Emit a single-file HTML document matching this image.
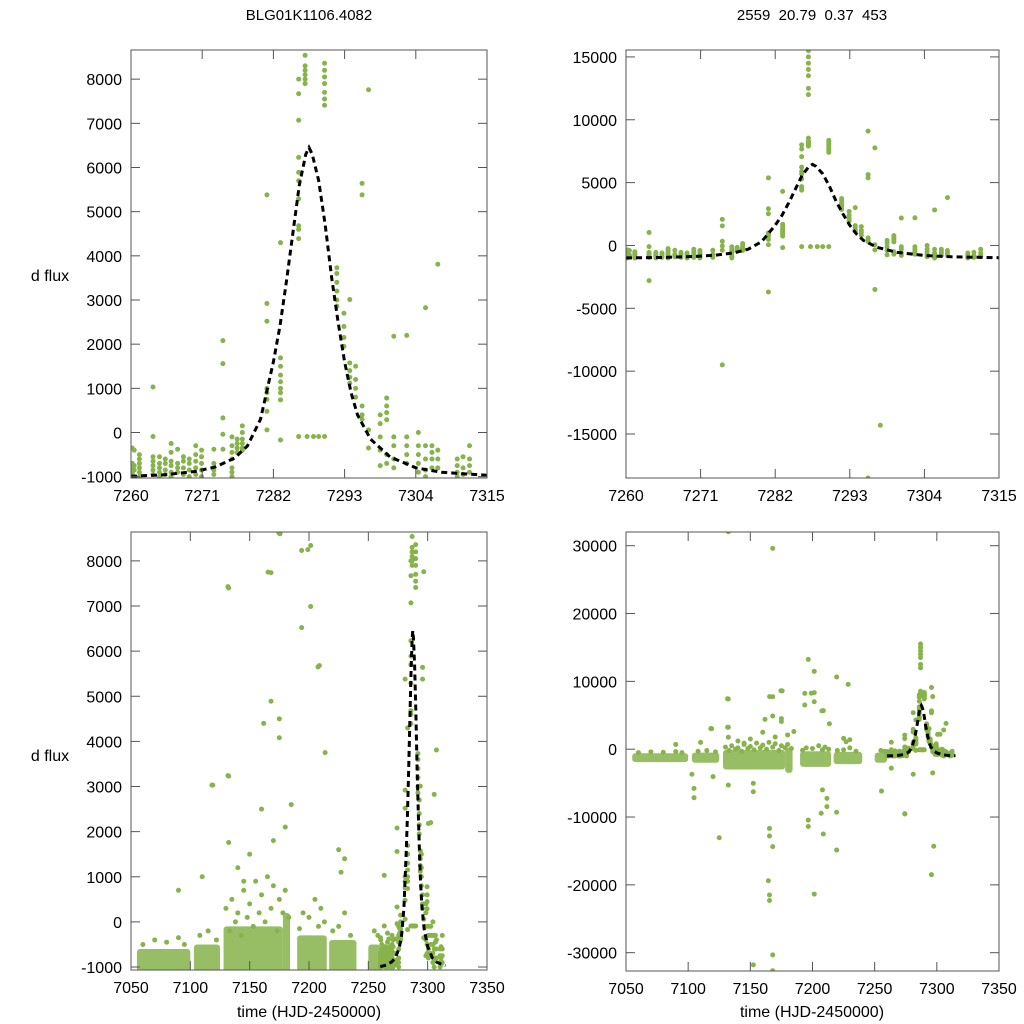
<!DOCTYPE html>
<html><head><meta charset="utf-8"><style>
html,body{margin:0;padding:0;background:#fff;overflow:hidden;width:1024px;height:1024px;}
svg{display:block;font-family:"Liberation Sans",sans-serif;}
</style></head><body>
<svg id="chart" width="1024" height="1024" viewBox="0 0 1024 1024">
<text x="309" y="20" font-size="15" text-anchor="middle">BLG01K1106.4082</text>
<text x="812" y="20" font-size="15" text-anchor="middle" xml:space="preserve">2559  20.79  0.37  453</text>
<text x="50" y="281" font-size="16" text-anchor="middle">d flux</text>
<text x="50" y="761" font-size="16" text-anchor="middle">d flux</text>
<text x="309" y="1017" font-size="16" text-anchor="middle">time (HJD-2450000)</text>
<text x="812" y="1017" font-size="16" text-anchor="middle">time (HJD-2450000)</text>
</svg>
<script>
// model fit curve
const modelT = [7260,7265,7270,7273,7276,7278,7280,7282,7283,7284,7285,7286,7287,7287.5,7288,7289,7290,7291,7292,7293,7294,7295,7297,7300,7304,7308,7315];
const modelY = [-990,-960,-880,-780,-580,-300,300,1600,2400,3400,4500,5600,6300,6450,6300,5700,4700,3500,2500,1600,900,400,-150,-550,-800,-900,-970];
// event photometry columns: time then flux values
const eventCols = [
[7260.2,-700,-800,-900,-1000,-950,-350],
[7260.5,-400,-850,-750],
[7261.3,-500,-600,-700,-800,-900,-1000],
[7263.4,-550,-650,-750,-850,-950,1030,-90,-2800],
[7264.4,-550,-700,-800,-900,-1000],
[7265.3,-600,-700,-850,-950],
[7266.2,-250,-650,-750,-900,-1000,-450],
[7267.2,-700,-800,-900,-380],
[7268.1,-550,-650,-800,-950],
[7269.0,-600,-700,-850,-1000],
[7270.0,-300,-500,-650,-800,-950],
[7270.9,-400,-550,-700,-850,-1000],
[7272.8,-380,-700,-850,-950],
[7274.2,2080,1560,330,-40,-380,-9500],
[7275.6,-100,-300,-450,-600,-900,-1000,-800],
[7276.4,-150,-250,-350,-450],
[7277.2,150,0,-150,-250,-350,-400],
[7281.0,5380,2920,2520,1000,900,750,480,60,-3700],
[7283.1,4300,1690,1500,1300,1150,1000,900,740,-170],
[7285.9,8000,7670,7070,6230,5890,5700,5290,4680,4600,4390,-90],
[7286.9,8540,8300,8200,8100,8000,7900,14000,13500,12000,12500,15000,15500,14500],
[7287.2,-90],[7288.2,-90],[7289.0,-90],
[7289.9,8360,8200,8050,7900,7700,7550,7410,-90],
[7291.8,3730,3600,3400,3200,3000,2860],
[7292.9,2700,2400,2150,1950],
[7293.8,3010,1575,1400,1250,1120],
[7294.7,1500,1200,1000,800],
[7295.7,5640,5380,600,400,300,-18500,9100],
[7296.7,7760,60,-350,-3500],
[7297.5,-14300],
[7298.5,400,200,-100,-400,-750],
[7299.5,780,600,450,290,-500,-700],
[7300.6,2180,-100,-300,-600,-800],
[7302.6,-100,-300,-500,-700,2200],
[7304.4,0,-300,-500,-700,-900],
[7305.5,2825,-300,-600,-850,-1000],
[7306.5,-300,-450,-600,-800],
[7307.4,3810,-400,-600,-800],
[7310.4,-600,-750,-900,-1000],
[7311.3,-550,-800,-950],
[7312.3,-300,-600,-750,-900]
];
// dense season photometry bands: start, end, low, high
const bandStart = [7055,7103,7128,7178,7190,7217,7250];
const bandEnd   = [7100,7125,7178,7184,7215,7240,7260];
const bandLow   = [-1900,-2000,-3000,-3500,-2600,-2200,-2000];
const bandHigh  = [-600,-500,-100,200,-300,-400,-500];
// sparse points just above the dense seasons
const fuzzT = [7060,7070,7080,7090,7095,7108,7115,7122,7130,7135,7140,7145,7150,7155,7160,7165,7170,7175,7180,7138,7148,7158,7168,7178,7195,7200,7205,7210,7213,7220,7225,7230,7235,7255,7258,7133,7143,7153,7163,7173,7183,7192,7208];
const fuzzY = [-500,-400,-450,-350,-500,-300,-200,-400,300,500,200,700,400,900,600,1000,800,500,700,0,100,200,300,200,200,100,500,300,0,-200,-100,200,-300,-200,-300,-200,-300,-100,0,-200,100,-150,-100];
// sparse outliers in full season
const outT = [7132.3,7168,7132.3,7132.3,7132.3,7118.9,7125,7168,7174.6,7168,7161.8,7196.6,7201.4,7201.4,7193.8,7193.8,7201.4,7208.7,7219.4,7228.7,7227,7196.6,7196.6,7208.7,7201.4,7219.4,7168,7165.4,7165.4,7164.5,7165.4,7165.4,7168,7168,7152.4,7152.4,7152.4,7104.7,7104.7,7103,7120,7132.3,7274.3,7255.5,7208,7211.6,7211.6,7207,7219.4,7175.6,7165.5,7199,7131.7,7207.6,7175,7175,7213.6,7118.2,7131.7,7150,7160,7170,7180,7140,7145,7225,7230,7185,7110,7090];
const outY = [32060,29600,7400,3230,1760,3030,-13050,7740,8620,4890,4400,13240,11480,8340,8230,6520,6990,5680,10640,9560,1100,-10450,-11400,-12500,-21360,-14870,-14370,-11680,-12800,-19400,-21500,-22300,-30330,-32660,-31800,-5030,-6270,-5770,-7150,-3700,-4050,-5300,-9560,-6170,-6000,-8470,-7250,-9450,-9300,8600,7750,8250,7430,5650,4500,4080,3750,3030,3240,1500,2500,1800,2100,1200,900,1600,1400,2600,1000,700];

const panels = [
 {name:'top-left',x0:131,x1:487,y0:50,y1:478,xmin:7260,xmax:7315,ymin:-1030,ymax:8660,xt:[7260,7271,7282,7293,7304,7315],yt:[-1000,0,1000,2000,3000,4000,5000,6000,7000,8000],bands:false},
 {name:'top-right',x0:626,x1:999,y0:50,y1:478,xmin:7260,xmax:7315,ymin:-18500,ymax:15550,xt:[7260,7271,7282,7293,7304,7315],yt:[-15000,-10000,-5000,0,5000,10000,15000],bands:false},
 {name:'bottom-left',x0:131,x1:487,y0:532,y1:970,xmin:7050,xmax:7350,ymin:-1066,ymax:8640,xt:[7050,7100,7150,7200,7250,7300,7350],yt:[-1000,0,1000,2000,3000,4000,5000,6000,7000,8000],bands:true},
 {name:'bottom-right',x0:626,x1:999,y0:532,y1:971,xmin:7050,xmax:7350,ymin:-32700,ymax:32020,xt:[7050,7100,7150,7200,7250,7300,7350],yt:[-30000,-20000,-10000,0,10000,20000,30000],bands:true}
];
const NS='http://www.w3.org/2000/svg';
const svg=document.getElementById('chart');
const GREEN='#86b34a';
function mk(tag,attrs,parent){const e=document.createElementNS(NS,tag);for(const k in attrs)e.setAttribute(k,attrs[k]);parent.appendChild(e);return e;}
panels.forEach((p,pi)=>{
 const sx=v=>p.x0+(v-p.xmin)/(p.xmax-p.xmin)*(p.x1-p.x0);
 const sy=v=>p.y1-(v-p.ymin)/(p.ymax-p.ymin)*(p.y1-p.y0);
 const g=mk('g',{},svg);
 
 
 const cp=mk('clipPath',{id:'clip'+pi},g);
 mk('rect',{x:p.x0,y:p.y0,width:p.x1-p.x0,height:p.y1-p.y0},cp);
 const data=mk('g',{'clip-path':'url(#clip'+pi+')'},g);
 
 
 if(p.bands){
  bandStart.forEach((s,i)=>{
   const r=mk('rect',{x:sx(s),y:sy(bandHigh[i]),width:sx(bandEnd[i])-sx(s),height:sy(bandLow[i])-sy(bandHigh[i]),rx:3,fill:GREEN,opacity:0.85},data);
   
   
  });
  fuzzT.forEach((t,i)=>{
   const c=mk('circle',{cx:sx(t),cy:sy(fuzzY[i]),r:2.5,fill:GREEN},data);
   
   
  });
  outT.forEach((t,i)=>{
   const c=mk('circle',{cx:sx(t),cy:sy(outY[i]),r:2.5,fill:GREEN},data);
   
   
  });
 }
 eventCols.forEach(col=>{
  for(let j=1;j<col.length;j++){
   const c=mk('circle',{cx:sx(col[0]),cy:sy(col[j]),r:2.5,fill:GREEN},data);
   
   
  }
 });
 const d=modelT.map((t,i)=>(i?'L':'M')+sx(t).toFixed(1)+','+sy(modelY[i]).toFixed(1)).join('');
 const path=mk('path',{d:d,fill:'none',stroke:'#000','stroke-width':3,'stroke-dasharray':'6,4'},data);
 
 
 const fr=mk('rect',{x:p.x0,y:p.y0,width:p.x1-p.x0,height:p.y1-p.y0,fill:'none',stroke:'#555','stroke-width':1},g);
 
 
 p.xt.forEach(v=>{
  const x=sx(v);
  mk('line',{x1:x,x2:x,y1:p.y1,y2:p.y1-9,stroke:'#555'},g);
  mk('line',{x1:x,x2:x,y1:p.y0,y2:p.y0+9,stroke:'#555'},g);
  const t=mk('text',{x:x,y:p.y1+23,'font-size':16,'text-anchor':'middle'},g);
  t.textContent=v;
  
  
 });
 p.yt.forEach(v=>{
  const y=sy(v);
  mk('line',{x1:p.x0,x2:p.x0+9,y1:y,y2:y,stroke:'#555'},g);
  mk('line',{x1:p.x1,x2:p.x1-9,y1:y,y2:y,stroke:'#555'},g);
  const t=mk('text',{x:p.x0-9,y:y+6,'font-size':16,'text-anchor':'end'},g);
  t.textContent=v;
  
  
 });
});
</script>
</body></html>
